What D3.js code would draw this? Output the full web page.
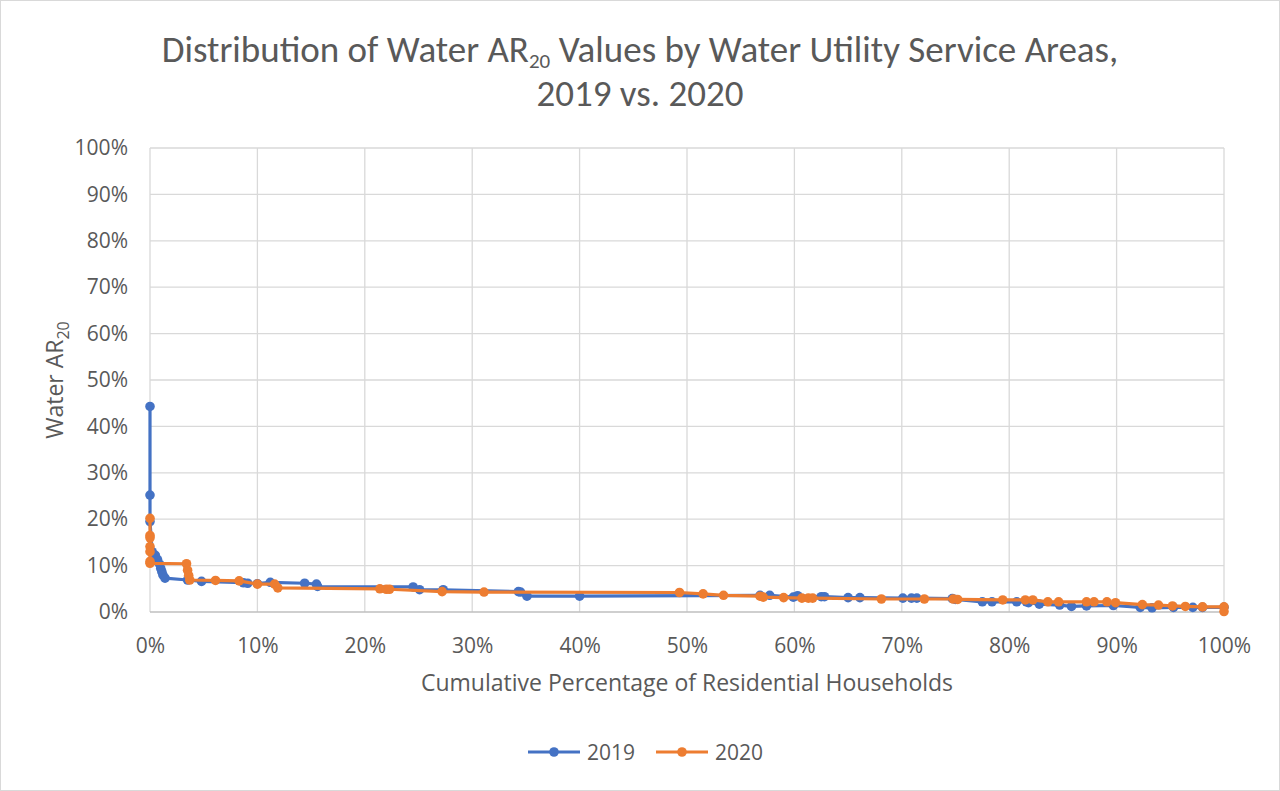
<!DOCTYPE html>
<html><head><meta charset="utf-8">
<script src="https://cdn.jsdelivr.net/npm/d3@7"></script>
<style>
html,body{margin:0;padding:0;background:#fff;}
text{font-family:"Open Sans","Noto Sans",sans-serif;fill:#595959;}
.ttl{font-family:Carlito,Calibri,"Liberation Sans",sans-serif;}
</style></head>
<body><svg id="c" width="1280" height="791"></svg>
<script>
// Data: cumulative % of households (x) and Water AR20 % (y)
const x2019 = [0,0,0,0.2,0.5,0.7,0.9,1.0,1.1,1.2,1.4,3.5,4.8,8.7,9.1,10.0,11.2,14.4,15.5,15.6,24.5,25.1,27.3,34.3,34.5,35.1,40.0,56.8,57.7,59.9,60.3,62.5,62.8,65.0,66.1,70.1,70.9,71.4,74.7,75.0,77.5,78.4,80.7,81.6,81.8,82.8,84.7,85.8,87.2,89.7,92.2,93.3,95.3,97.1,98.0,100];
const y2019 = [44.3,25.2,19.5,13.0,12.2,11.3,10.3,9.4,8.7,8.0,7.3,6.9,6.6,6.3,6.2,6.1,6.4,6.2,6.0,5.5,5.4,4.8,4.8,4.4,4.3,3.4,3.4,3.6,3.6,3.2,3.5,3.3,3.3,3.1,3.1,3.0,3.0,3.0,2.9,2.7,2.2,2.2,2.2,2.2,2.0,1.7,1.5,1.2,1.3,1.4,1.0,0.9,1.0,1.0,1.0,1.0];
const x2020 = [0,0,0,0,0,0,0,3.4,3.5,3.6,3.7,6.1,8.3,10.0,11.6,11.9,21.4,22.0,22.3,27.2,31.1,49.3,51.5,53.4,56.8,57.1,59.0,60.7,61.3,61.7,68.1,72.1,74.8,75.2,79.4,81.5,82.2,83.6,84.6,87.2,87.9,89.1,89.9,92.4,93.9,95.2,96.4,98.0,100,100];
const y2020 = [20.2,16.5,16.0,14.1,13.0,10.9,10.5,10.4,9.0,7.9,6.9,6.8,6.7,6.0,6.0,5.2,5.0,4.9,4.9,4.4,4.3,4.2,3.9,3.6,3.4,3.2,3.1,3.0,3.0,3.0,2.8,2.8,2.8,2.7,2.6,2.6,2.6,2.2,2.2,2.2,2.2,2.2,2.0,1.6,1.5,1.3,1.2,1.1,1.1,0.1];
const seriesNames = ["2019","2020"];
const colors = ["#4472C4","#ED7D31"];
const xTicks = [0,10,20,30,40,50,60,70,80,90,100];
const yTicks = [0,10,20,30,40,50,60,70,80,90,100];

const svg = d3.select("#c");
svg.append("rect").attr("x",0.5).attr("y",0.5).attr("width",1279).attr("height",790)
  .attr("fill","#fff").attr("stroke","#d9d9d9");

const L=150,R=1224,T=148,B=612;
const x = d3.scaleLinear().domain([0,100]).range([L,R]);
const y = d3.scaleLinear().domain([0,100]).range([B,T]);

// gridlines
const g = svg.append("g");
g.selectAll(".hg").data(yTicks.filter(d=>d>0)).join("line")
  .attr("x1",L).attr("x2",R).attr("y1",d=>y(d)).attr("y2",d=>y(d))
  .attr("stroke","#d9d9d9").attr("stroke-width",1.3);
g.selectAll(".vg").data(xTicks).join("line")
  .attr("x1",d=>x(d)).attr("x2",d=>x(d)).attr("y1",T).attr("y2",B)
  .attr("stroke","#d9d9d9").attr("stroke-width",1.3);
g.append("line").attr("x1",L).attr("x2",R).attr("y1",B).attr("y2",B)
  .attr("stroke","#bfbfbf").attr("stroke-width",1.3);

// axes via d3
const xAxis = svg.append("g").attr("transform",`translate(0,${B})`)
  .call(d3.axisBottom(x).tickValues(xTicks).tickFormat(d=>d+"%").tickSize(0).tickPadding(26));
const yAxis = svg.append("g").attr("transform",`translate(${L},0)`)
  .call(d3.axisLeft(y).tickValues(yTicks).tickFormat(d=>d+"%").tickSize(0).tickPadding(22));
[xAxis,yAxis].forEach(a=>{a.select(".domain").remove();
  a.selectAll("text").attr("font-family",null).style("font-family",'"Open Sans","Noto Sans",sans-serif')
   .style("font-size","21px").attr("fill","#595959");});

// series
const data = [d3.zip(x2019,y2019), d3.zip(x2020,y2020)];
const line = d3.line().x(d=>x(d[0])).y(d=>y(d[1]));
data.forEach((s,i)=>{
  svg.append("path").datum(s).attr("d",line).attr("fill","none")
    .attr("stroke",colors[i]).attr("stroke-width",3.2).attr("stroke-linejoin","round");
  svg.append("g").selectAll("circle").data(s).join("circle")
    .attr("cx",d=>x(d[0])).attr("cy",d=>y(d[1])).attr("r",4.8).attr("fill",colors[i]);
});

// title
const t = svg.append("text").attr("class","ttl").attr("text-anchor","middle").style("font-size","37px");
t.append("tspan").attr("x",640).attr("y",62).text("Distribution of Water AR");
t.append("tspan").attr("dy",6).style("font-size","21px").text("20");
t.append("tspan").attr("dy",-6).text(" Values by Water Utility Service Areas,");
svg.append("text").attr("class","ttl").attr("x",640).attr("y",106).attr("text-anchor","middle").style("font-size","37px").text("2019 vs. 2020");

// axis titles
svg.append("text").attr("x",687).attr("y",691).attr("text-anchor","middle").style("font-size","23px")
  .text("Cumulative Percentage of Residential Households");
const yt = svg.append("text").attr("transform","translate(63,380) rotate(-90)").attr("text-anchor","middle").style("font-size","23px");
yt.append("tspan").text("Water AR");
yt.append("tspan").attr("dy",6).style("font-size","16px").text("20");

// legend
const lx=[528,656];
seriesNames.forEach((n,i)=>{
  const lg = svg.append("g");
  lg.append("line").attr("x1",lx[i]).attr("x2",lx[i]+52).attr("y1",752).attr("y2",752)
    .attr("stroke",colors[i]).attr("stroke-width",3.2);
  lg.append("circle").attr("cx",lx[i]+26).attr("cy",752).attr("r",4.8).attr("fill",colors[i]);
  lg.append("text").attr("x",lx[i]+59).attr("y",760).style("font-size","21px").text(n);
});
</script></body></html>
